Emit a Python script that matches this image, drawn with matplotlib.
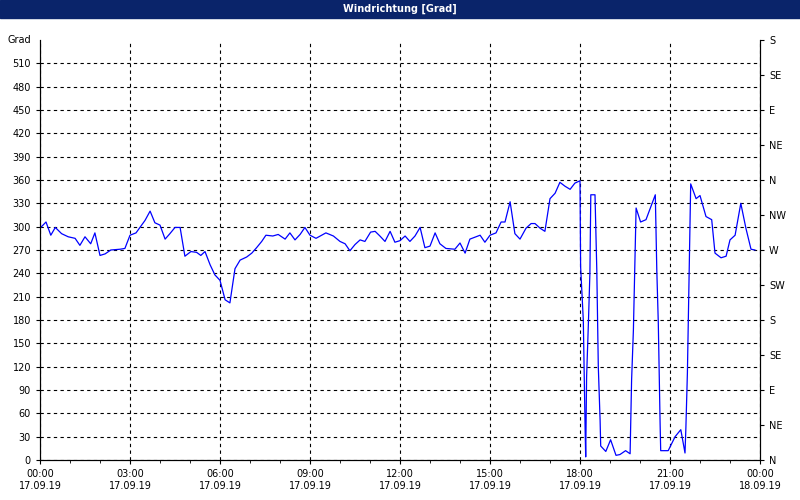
import matplotlib
matplotlib.use("Agg")
import matplotlib.pyplot as plt

hours = [0,.2,.36,.51,.72,.94,1.17,1.33,1.5,1.69,1.83,2.0,2.17,2.36,2.67,2.83,3.0,3.2,3.39,3.5,3.67,3.83,4.0,4.17,4.33,4.5,4.67,4.83,5.03,5.22,5.36,5.5,5.67,5.83,6.0,6.17,6.33,6.5,6.67,6.89,7.06,7.22,7.39,7.53,7.76,7.94,8.17,8.33,8.5,8.67,8.83,9.0,9.2,9.39,9.53,9.78,10.0,10.17,10.33,10.5,10.67,10.83,11.02,11.17,11.33,11.5,11.67,11.83,12.0,12.17,12.33,12.5,
         12.67,12.83,13.0,13.17,13.33,13.53,13.83,14.0,14.17,14.33,14.67,14.83,15.0,15.2,15.37,15.5,15.67,15.83,16.0,16.2,16.37,16.5,16.67,16.83,17.0,17.17,17.33,17.5,17.67,17.83,18.0,18.02,18.11,18.17,18.19,18.22,18.28,18.33,18.36,18.5,18.56,18.61,18.67,18.69,18.86,19.02,19.2,19.33,19.52,19.67,19.72,19.78,19.87,20.02,20.2,20.51,20.56,20.61,20.67,20.69,20.94,21.17,21.36,21.5,21.53,21.58,21.64,21.69,21.87,22.0,22.2,22.39,22.5,22.7,22.87,23.0,23.17,23.36,23.53,23.7,23.83]
direction = [298,306,289,299,291,287,285,276,287,278,292,263,265,270,271,272,289,292,302,308,320,305,302,284,291,299,299,262,268,267,263,268,251,238,231,206,202,246,257,261,266,273,281,289,288,290,284,292,283,290,299,289,285,289,292,288,281,278,269,277,283,281,293,294,288,281,294,280,282,288,281,288,
             299,273,275,292,278,272,271,279,266,284,289,280,289,292,306,306,332,291,284,298,304,304,298,294,336,343,357,352,348,356,359,249,180,41,4,107,176,240,341,341,244,120,51,18,11,26,6,7,12,8,103,167,324,306,309,341,244,176,47,12,12,30,39,9,42,112,249,355,336,340,313,309,266,260,262,283,289,330,298,271,270]

y_ticks = list(range(0, 511, 30))
right_ticks = list(range(0, 541, 45))
right_labels = ["N","NE","E","SE","S","SW","W","NW","N","NE","E","SE","S"]
x_ticks = list(range(0, 25, 3))
x_labels = ["00:00\n17.09.19","03:00\n17.09.19","06:00\n17.09.19","09:00\n17.09.19","12:00\n17.09.19","15:00\n17.09.19","18:00\n17.09.19","21:00\n17.09.19","00:00\n18.09.19"]

fig = plt.figure(figsize=(8, 5), dpi=100)
fig.patch.set_facecolor("white")
fig.text(0.5, 0.982, "Windrichtung [Grad]", ha="center", va="center", color="white",
         fontsize=7, fontweight="bold",
         bbox=dict(boxstyle="square,pad=0", fc="#0a246a", ec="none"))
bar = plt.Rectangle((0, 0.964), 1, 0.036, transform=fig.transFigure, color="#0a246a", zorder=0)
fig.patches.append(bar)

ax = fig.add_axes([0.05, 0.08, 0.90, 0.84])
ax.plot(hours, direction, color="#0000ff", lw=0.9)
ax.set_xlim(0, 24)
ax.set_ylim(0, 540)
ax.set_yticks(y_ticks)
ax.set_xticks(x_ticks)
ax.set_xticklabels(x_labels)
ax.set_xticks(range(0, 25), minor=True)
ax.grid(True, color="black", ls=(0, (3, 3)), lw=0.8)
ax.tick_params(labelsize=7, length=3, direction="out")
ax.tick_params(axis="x", which="minor", length=2)
ax.text(-0.012, 1.0, "Grad", transform=ax.transAxes, ha="right", va="center", fontsize=7)
for s in ["top"]:
    ax.spines[s].set_visible(False)

ax2 = ax.twinx()
ax2.set_ylim(0, 540)
ax2.set_yticks(right_ticks)
ax2.set_yticklabels(right_labels)
ax2.tick_params(labelsize=7, length=3)
ax2.spines["top"].set_visible(False)

fig.savefig("out.png", dpi=100)
